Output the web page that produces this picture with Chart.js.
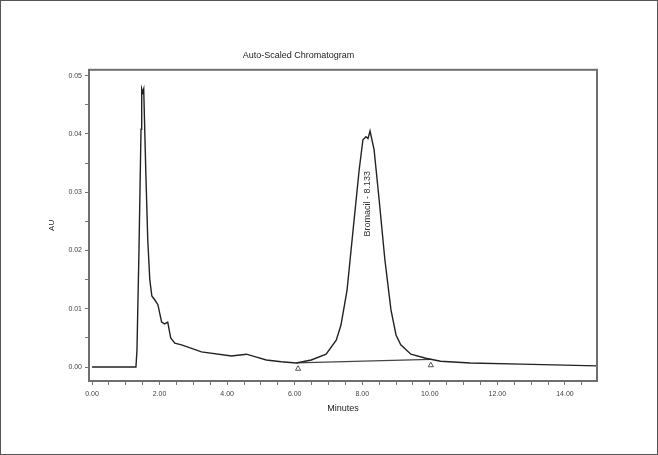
<!DOCTYPE html>
<html>
<head>
<meta charset="utf-8">
<script src="https://cdn.jsdelivr.net/npm/chart.js@4.4.1/dist/chart.umd.min.js"></script>
<style>
  html, body { margin: 0; padding: 0; background: #fff; }
  #wrap { position: relative; width: 658px; height: 455px; }
  #frame { position: absolute; left: 0; top: 0; width: 658px; height: 455px; box-sizing: border-box; border: 1px solid #555; pointer-events: none; }
  canvas { display: block; }
</style>
</head>
<body>
<div id="wrap">
  <canvas id="c" width="658" height="455"></canvas>
  <div id="frame"></div>
</div>
<script>
// ---- data (minutes vs AU) ----
const minutes = [0.00, 1.30, 1.33, 1.39, 1.45, 1.47, 1.50, 1.53, 1.59, 1.65, 1.71, 1.77, 1.86, 1.95, 2.06, 2.15, 2.24, 2.33, 2.45, 2.65, 3.24, 4.13, 4.57, 4.87, 5.16, 5.60, 6.05, 6.49, 6.93, 7.23, 7.37, 7.55, 7.73, 7.91, 8.02, 8.11, 8.17, 8.23, 8.35, 8.50, 8.67, 8.85, 9.00, 9.14, 9.44, 9.88, 10.32, 11.20, 12.70, 14.95];
const au      = [0.0000, 0.0000, 0.0029, 0.0201, 0.0408, 0.0477, 0.0471, 0.0477, 0.0339, 0.0218, 0.0150, 0.0122, 0.0115, 0.0107, 0.0077, 0.0074, 0.0077, 0.0050, 0.0041, 0.0038, 0.0026, 0.0019, 0.0022, 0.0017, 0.0012, 0.0009, 0.0007, 0.0012, 0.0022, 0.0046, 0.0072, 0.0132, 0.0236, 0.0339, 0.0390, 0.0395, 0.0392, 0.0405, 0.0373, 0.0287, 0.0184, 0.0098, 0.0055, 0.0038, 0.0022, 0.0015, 0.0010, 0.0007, 0.0005, 0.0002];
const baselineMinutes = [6.05, 10.03];
const baselineAU      = [0.0007, 0.0013];
const eventMinutes = [6.10, 10.03];
const eventAU      = [-0.0003, 0.0003];
const peakName = 'Bromacil - 8.133';
const peakMinute = 8.17;
const peakLabelAU = 0.0280;
const xTickValues = [0, 2, 4, 6, 8, 10, 12, 14];
const xTickLabels = ['0.00', '2.00', '4.00', '6.00', '8.00', '10.00', '12.00', '14.00'];
const yTickValues = [0, 0.01, 0.02, 0.03, 0.04, 0.05];
const yTickLabels = ['0.00', '0.01', '0.02', '0.03', '0.04', '0.05'];
const xMinorStep = 0.5;
const yMinorStep = 0.005;

const trace = minutes.map((m, i) => ({ x: m, y: au[i] }));
const base = baselineMinutes.map((m, i) => ({ x: m, y: baselineAU[i] }));
const events = eventMinutes.map((m, i) => ({ x: m, y: eventAU[i] }));

function buildTicks(majors, step, min, max) {
  const out = [];
  const start = Math.ceil((min - 1e-9) / step) * step;
  for (let v = start; v <= max + 1e-9; v += step) {
    const r = Math.round(v / step) * step;
    out.push({ value: r });
  }
  return out;
}

const framePlugin = {
  id: 'frame',
  afterDraw(chart) {
    const { ctx, chartArea: a } = chart;
    ctx.save();
    ctx.strokeStyle = '#6f6f6f';
    ctx.lineWidth = 2;
    ctx.strokeRect(a.left, a.top, a.right - a.left, a.bottom - a.top);
    ctx.restore();
  }
};
const peakLabelPlugin = {
  id: 'peakLabel',
  afterDatasetsDraw(chart) {
    const { ctx, scales } = chart;
    const x = scales.x.getPixelForValue(peakMinute);
    const y = scales.y.getPixelForValue(peakLabelAU);
    ctx.save();
    ctx.translate(x, y);
    ctx.rotate(-Math.PI / 2);
    ctx.font = '9px "Liberation Sans", Arial, sans-serif';
    ctx.fillStyle = '#333';
    ctx.textAlign = 'center';
    ctx.textBaseline = 'middle';
    ctx.fillText(peakName, 0, 0);
    ctx.restore();
  }
};

const X_MIN = -0.09, X_MAX = 14.95, Y_MIN = -0.0024, Y_MAX = 0.0510;
const FONT = '"Liberation Sans", Arial, sans-serif';

new Chart(document.getElementById('c'), {
  type: 'line',
  data: {
    datasets: [
      { data: trace, borderColor: '#222', borderWidth: 1.4, pointRadius: 0, tension: 0, fill: false },
      { data: base, borderColor: '#444', borderWidth: 1.2, pointRadius: 0, tension: 0, fill: false },
      { data: events, showLine: false, pointStyle: 'triangle', pointRadius: 3, borderWidth: 1, borderColor: '#555', backgroundColor: 'rgba(0,0,0,0)' }
    ]
  },
  options: {
    responsive: false,
    animation: false,
    layout: { padding: { left: 0, right: 61, top: 0, bottom: 0 } },
    plugins: {
      legend: { display: false },
      tooltip: { enabled: false },
      title: {
        display: true,
        text: 'Auto-Scaled Chromatogram',
        color: '#222',
        font: { size: 9, weight: 'normal', family: FONT },
        padding: { top: 50, bottom: 9 }
      }
    },
    scales: {
      x: {
        type: 'linear',
        min: X_MIN, max: X_MAX,
        afterBuildTicks: s => { s.ticks = buildTicks(xTickValues, xMinorStep, 0, X_MAX); },
        afterFit: s => { s.height = 74; },
        grid: { drawOnChartArea: false, drawTicks: true, tickLength: 4, color: '#777', tickColor: '#777' },
        border: { display: false },
        ticks: {
          autoSkip: false, maxRotation: 0, padding: 5,
          color: '#444',
          font: { size: 7, family: FONT },
          callback: v => { const i = xTickValues.findIndex(m => Math.abs(m - v) < 1e-6); return i >= 0 ? xTickLabels[i] : ''; }
        },
        title: { display: true, text: 'Minutes', color: '#222', font: { size: 9, family: FONT }, padding: { top: 0, bottom: 41 } }
      },
      y: {
        type: 'linear',
        min: Y_MIN, max: Y_MAX,
        afterBuildTicks: s => { s.ticks = buildTicks(yTickValues, yMinorStep, 0, Y_MAX); },
        afterFit: s => { s.width = 89; },
        grid: { drawOnChartArea: false, drawTicks: true, tickLength: 4, color: '#777', tickColor: '#777' },
        border: { display: false },
        ticks: {
          autoSkip: false, padding: 3,
          color: '#444',
          font: { size: 7, family: FONT },
          callback: v => { const i = yTickValues.findIndex(m => Math.abs(m - v) < 1e-6); return i >= 0 ? yTickLabels[i] : ''; }
        },
        title: { display: true, text: 'AU', color: '#222', font: { size: 8, family: FONT }, padding: { top: 47, bottom: 0 } }
      }
    }
  },
  plugins: [framePlugin, peakLabelPlugin]
});
</script>
</body>
</html>
